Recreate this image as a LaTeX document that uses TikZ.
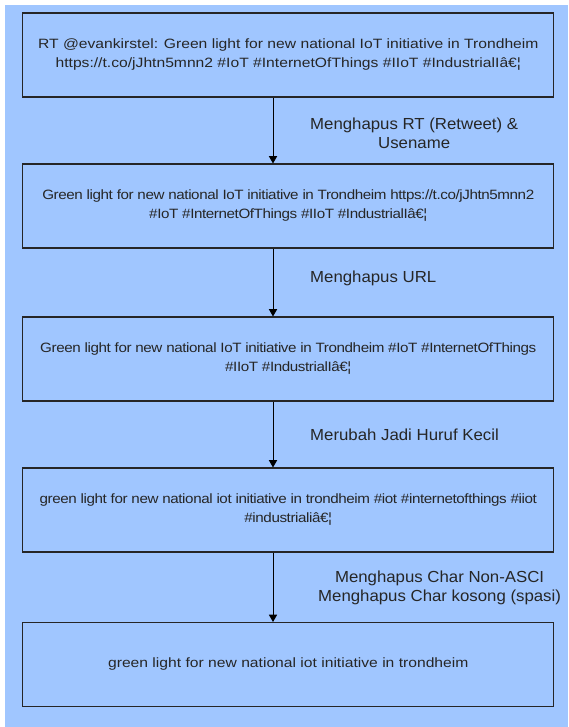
\documentclass[tikz,border=0pt]{standalone}
\usepackage{fontspec}
\setmainfont{Liberation Sans}
\usetikzlibrary{arrows, positioning}
\definecolor{skyfill}{RGB}{160,198,255}

\tikzset{
	stage/.style={draw=black!85, line width=1.1pt, minimum width=531pt, minimum height=84pt, align=center, inner sep=0pt, text=black!85, font=\fontsize{13.5}{19}\selectfont\addfontfeatures{FakeStretch=1.16}},
	tight/.style={font=\fontsize{13.5}{19}\selectfont\addfontfeatures{FakeStretch=1.125, LetterSpace=-3}},
	note/.style={anchor=west, align=center, inner sep=0pt, text=black!85, font=\fontsize{16}{19}\selectfont\addfontfeatures{FakeStretch=1.05}},
	flow/.style={line width=1pt, -triangle 60},
}

\begin{document}
\begin{tikzpicture}[x=1pt, y=-1pt]
	\useasboundingbox (0,0) rectangle (568,727);
	\fill [skyfill] (5,5) rectangle (568,727);
	\node [stage] (raw) at (288.3,55) {RT @evankirstel: Green light for new national IoT initiative in Trondheim\\ https://t.co/jJhtn5mnn2 \#IoT \#InternetOfThings \#IIoT \#IndustrialIâ€¦};
	\node [stage, tight] (noret) at (288.3,206) {Green light for new national IoT initiative in Trondheim https://t.co/jJhtn5mnn2\\ \#IoT \#InternetOfThings \#IIoT \#IndustrialIâ€¦};
	\node [stage, tight] (nourl) at (288.3,359) {Green light for new national IoT initiative in Trondheim \#IoT \#InternetOfThings\\ \#IIoT \#IndustrialIâ€¦};
	\node [stage, tight] (lower) at (288.3,510) {green light for new national iot initiative in trondheim \#iot \#internetofthings \#iiot\\ \#industrialiâ€¦};
	\node [stage] (clean) at (288.3,664.5) {green light for new national iot initiative in trondheim};
	\draw [flow] ([xshift=-15.3pt]raw.south) -- ([xshift=-15.3pt]noret.north);
	\draw [flow] ([xshift=-15.3pt]noret.south) -- ([xshift=-15.3pt]nourl.north);
	\draw [flow] ([xshift=-15.3pt]nourl.south) -- ([xshift=-15.3pt]lower.north);
	\draw [flow] ([xshift=-15.3pt]lower.south) -- ([xshift=-15.3pt]clean.north);
	\node [note] (step1) at (310,133) {Menghapus RT (Retweet) \&\\ Usename};
	\node [note] (step2) at (310,278) {Menghapus URL};
	\node [note] (step3) at (310,435) {Merubah Jadi Huruf Kecil};
	\node [note] (step4) at (318,587.5) {Menghapus Char Non-ASCI\\ Menghapus Char kosong (spasi)};
\end{tikzpicture}
\end{document}
